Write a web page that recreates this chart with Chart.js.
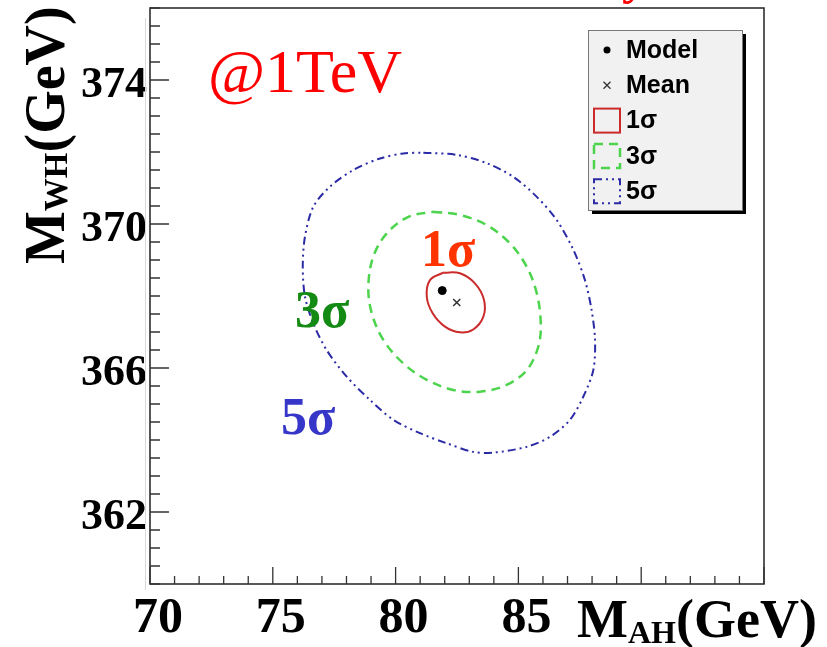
<!DOCTYPE html>
<html>
<head>
<meta charset="utf-8">
<script src="https://cdn.jsdelivr.net/npm/chart.js@4.4.1/dist/chart.umd.min.js"></script>
<style>
  html, body { margin: 0; padding: 0; background: #fff; }
</style>
</head>
<body>
<canvas id="chartMass" width="827" height="647"></canvas>
<script>
// axis ranges and labelled ticks
const xRange = [70, 95];
const yRange = [360, 376];
const xTickValues = [70, 75, 80, 85];
const yTickValues = [362, 366, 370, 374];

// contours (M_AH, M_WH)
const sig5X = [81.13, 82.49, 83.71, 84.79, 85.74, 86.56, 87.24, 87.71, 87.98, 88.12, 88.05, 87.64, 87.10, 86.29, 85.34, 83.98, 83.16, 82.08, 80.99, 79.91, 78.96, 78.01, 77.19, 76.65, 76.31, 76.22, 76.31, 76.65, 77.33, 78.28, 79.36, 80.31];
const sig5Y = [371.98, 371.92, 371.69, 371.31, 370.76, 370.11, 369.28, 368.44, 367.61, 366.78, 365.94, 365.20, 364.56, 364.09, 363.81, 363.65, 363.67, 363.91, 364.19, 364.56, 365.11, 365.76, 366.50, 367.24, 367.98, 368.81, 369.65, 370.48, 371.04, 371.50, 371.82, 371.96];

const sig3X = [81.53, 82.62, 83.71, 84.66, 85.34, 85.75, 85.91, 85.81, 85.34, 84.52, 83.44, 82.35, 81.27, 80.31, 79.50, 79.03, 78.89, 79.09, 79.64, 80.52];
const sig3Y = [370.34, 370.25, 369.97, 369.46, 368.81, 368.07, 367.24, 366.59, 365.94, 365.53, 365.34, 365.39, 365.67, 366.13, 366.78, 367.52, 368.26, 369.09, 369.74, 370.20];

const sig1X = [81.94, 82.62, 83.23, 83.60, 83.57, 83.16, 82.62, 82.01, 81.51, 81.27, 81.40];
const sig1Y = [368.65, 368.63, 368.35, 367.89, 367.42, 367.07, 366.99, 367.15, 367.52, 367.98, 368.44];

const modelPoint = [81.90, 368.15];
const meanPoint = [82.49, 367.82];

function closedLoop(xs, ys) {
  const pts = xs.map((x, i) => ({ x: x, y: ys[i] }));
  pts.push(pts[0]);
  return pts;
}

const serifBold = (px) => 'bold ' + px + 'px "Liberation Serif", "Times New Roman", serif';

// white page, frame, inward ticks
const framePlugin = {
  id: 'frame',
  beforeDraw(chart) {
    const ctx = chart.ctx;
    ctx.save();
    ctx.fillStyle = '#fff';
    ctx.fillRect(0, 0, chart.width, chart.height);
    ctx.restore();
  },
  afterDatasetsDraw(chart) {
    const { ctx, chartArea: a, scales } = chart;
    ctx.save();
    ctx.strokeStyle = '#d8d8d8';
    ctx.lineWidth = 1;
    ctx.beginPath();
    ctx.moveTo(145.5, a.top + 10);
    ctx.lineTo(145.5, a.bottom + 6);
    ctx.stroke();

    ctx.strokeStyle = '#222';
    ctx.lineWidth = 1.5;
    ctx.strokeRect(a.left, a.top, a.right - a.left, a.bottom - a.top);

    ctx.lineWidth = 1.3;
    ctx.strokeStyle = '#333';
    ctx.beginPath();
    for (let v = xRange[0]; v <= xRange[1]; v += 1) {
      const px = scales.x.getPixelForValue(v);
      const len = (v % 5 === 0) ? 17 : 8;
      ctx.moveTo(px, a.bottom);
      ctx.lineTo(px, a.bottom - len);
    }
    for (let v = yRange[0]; v <= yRange[1]; v += 0.5) {
      const py = scales.y.getPixelForValue(v);
      const len = yTickValues.includes(v) ? 19 : 10;
      ctx.moveTo(a.left, py);
      ctx.lineTo(a.left + len, py);
    }
    ctx.stroke();
    ctx.restore();
  }
};

// texts: annotations and axis titles
const textPlugin = {
  id: 'texts',
  afterDraw(chart) {
    const ctx = chart.ctx;
    ctx.save();
    ctx.textBaseline = 'alphabetic';
    ctx.textAlign = 'left';

    ctx.fillStyle = '#ff0000';
    ctx.font = '62px "Liberation Serif", "Times New Roman", serif';
    ctx.fillText('@1TeV', 208, 92);

    ctx.font = serifBold(50);
    ctx.fillText('y', 622, -7);

    ctx.font = serifBold(52);
    ctx.fillStyle = '#ff3300';
    ctx.fillText('1σ', 421, 266);
    ctx.fillStyle = '#138a13';
    ctx.fillText('3σ', 295, 327);
    ctx.fillStyle = '#3636c9';
    ctx.fillText('5σ', 281, 434);

    // x title
    ctx.fillStyle = '#000';
    let x = 577;
    ctx.font = serifBold(54);
    ctx.fillText('M', x, 637);
    x += ctx.measureText('M').width;
    ctx.font = serifBold(32);
    ctx.fillText('AH', x, 643);
    x += ctx.measureText('AH').width;
    ctx.font = serifBold(54);
    ctx.fillText('(GeV)', x, 637);

    // y title
    ctx.translate(64, 264);
    ctx.rotate(-Math.PI / 2);
    let y = 0;
    ctx.font = serifBold(56);
    ctx.fillText('M', y, 0);
    y += ctx.measureText('M').width;
    ctx.font = serifBold(33);
    ctx.fillText('WH', y, 3);
    y += ctx.measureText('WH').width;
    ctx.font = serifBold(56);
    ctx.fillText('(GeV)', y, 0);
    ctx.restore();
  }
};

// ROOT style legend box
const legendPlugin = {
  id: 'rootLegend',
  afterDraw(chart) {
    const ctx = chart.ctx;
    const bx = 588, by = 30, bw = 154, bh = 180;
    ctx.save();
    ctx.fillStyle = '#000';
    ctx.fillRect(bx + 4, by + 4, bw, bh);
    ctx.fillStyle = '#f1f1f1';
    ctx.fillRect(bx, by, bw, bh);
    ctx.strokeStyle = '#777';
    ctx.lineWidth = 1;
    ctx.strokeRect(bx + 0.5, by + 0.5, bw, bh);

    const order = ['Model', 'Mean', '1σ', '3σ', '5σ'];
    ctx.font = 'bold 25px "Liberation Sans", Arial, sans-serif';
    ctx.textBaseline = 'middle';
    order.forEach((name, i) => {
      const ds = chart.data.datasets.find(d => d.label === name);
      const cy = by + 20 + i * 35.3;
      const cx = 607;
      if (ds.showLine) {
        ctx.strokeStyle = ds.borderColor;
        ctx.lineWidth = ds.borderWidth;
        ctx.setLineDash(ds.borderDash || []);
        ctx.strokeRect(594, cy - 12, 26, 24);
        ctx.setLineDash([]);
      } else if (ds.pointStyle === 'circle') {
        ctx.fillStyle = ds.backgroundColor;
        ctx.beginPath();
        ctx.arc(cx, cy, 3.5, 0, Math.PI * 2);
        ctx.fill();
      } else {
        ctx.strokeStyle = ds.borderColor;
        ctx.lineWidth = 1.3;
        ctx.beginPath();
        ctx.moveTo(cx - 3.5, cy - 3.5); ctx.lineTo(cx + 3.5, cy + 3.5);
        ctx.moveTo(cx + 3.5, cy - 3.5); ctx.lineTo(cx - 3.5, cy + 3.5);
        ctx.stroke();
      }
      ctx.fillStyle = '#000';
      ctx.fillText(name, 626, cy + 1);
    });
    ctx.restore();
  }
};

const chartMass = new Chart(document.getElementById('chartMass'), {
  type: 'scatter',
  data: {
    datasets: [
      { label: '5σ', data: closedLoop(sig5X, sig5Y), showLine: true, borderColor: '#2b2ba6', borderWidth: 2, borderDash: [8, 4, 2, 4, 2, 4], pointRadius: 0, tension: 0.3, fill: false },
      { label: '3σ', data: closedLoop(sig3X, sig3Y), showLine: true, borderColor: '#4cd44c', borderWidth: 2.5, borderDash: [9, 6], pointRadius: 0, tension: 0.35, fill: false },
      { label: '1σ', data: closedLoop(sig1X, sig1Y), showLine: true, borderColor: '#cc2b2b', borderWidth: 2, pointRadius: 0, tension: 0.4, fill: false },
      { label: 'Model', data: [{ x: modelPoint[0], y: modelPoint[1] }], showLine: false, pointStyle: 'circle', pointRadius: 4, backgroundColor: '#000', borderColor: '#000' },
      { label: 'Mean', data: [{ x: meanPoint[0], y: meanPoint[1] }], showLine: false, pointStyle: 'crossRot', pointRadius: 5, borderWidth: 1.5, borderColor: '#333', backgroundColor: '#333' }
    ]
  },
  options: {
    responsive: false,
    animation: false,
    layout: { padding: { left: 0, top: 8, right: 63, bottom: 0 } },
    plugins: { legend: { display: false }, tooltip: { enabled: false } },
    scales: {
      x: {
        type: 'linear', position: 'bottom', min: xRange[0], max: xRange[1],
        grid: { display: false, drawTicks: false }, border: { display: false },
        ticks: { autoSkip: false, maxRotation: 0, padding: 5, labelOffset: 8, color: '#000', font: { family: '"Liberation Serif"', weight: 'bold', size: 50 } },
        afterBuildTicks: (s) => { s.ticks = xTickValues.map(v => ({ value: v })); },
        afterFit: (s) => { s.height = 63; s.paddingLeft = 0; s.paddingRight = 0; }
      },
      y: {
        type: 'linear', position: 'left', min: yRange[0], max: yRange[1],
        grid: { display: false, drawTicks: false }, border: { display: false },
        ticks: { autoSkip: false, padding: 3, labelOffset: 6, color: '#000', font: { family: '"Liberation Serif"', weight: 'bold', size: 44 } },
        afterBuildTicks: (s) => { s.ticks = yTickValues.map(v => ({ value: v })); },
        afterFit: (s) => { s.width = 150; s.paddingTop = 0; s.paddingBottom = 0; }
      }
    }
  },
  plugins: [framePlugin, textPlugin, legendPlugin]
});
</script>
</body>
</html>
